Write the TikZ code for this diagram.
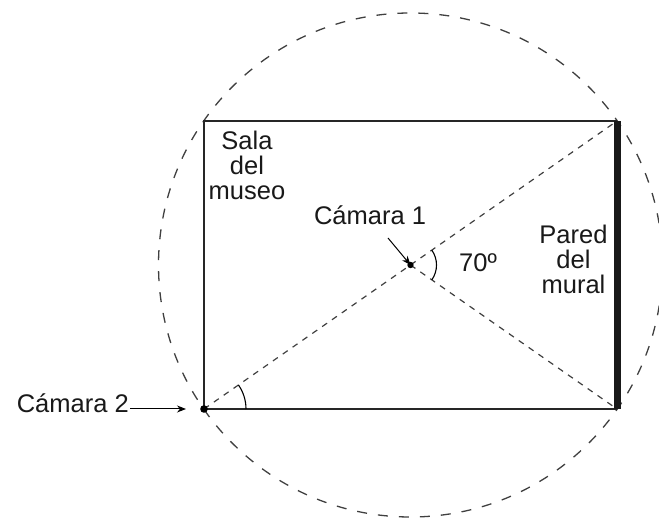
\documentclass[tikz,border=0pt]{standalone}
\usepackage{fontspec}
\setmainfont{Liberation Sans}
\usetikzlibrary{arrows.meta}
\begin{document}
\begin{tikzpicture}[x=1pt,y=1pt,
  lbl/.style={font=\fontsize{25.5}{25}\selectfont, inner sep=0pt, text=black!90},
  wall/.style={line width=1.1pt, black!85},
  dsh/.style={dash pattern=on 10pt off 11pt, line width=1.3pt, black!75},
  dshd/.style={dash pattern=on 6pt off 6pt, line width=1.2pt, black!75},
  arr/.style={-{Stealth[length=9pt,width=7pt]}, line width=1pt}]
\useasboundingbox (0,0) rectangle (659,519);
\coordinate (BL) at (204,110);
\coordinate (TL) at (204,398);
\coordinate (TR) at (617,398);
\coordinate (BR) at (617,110);
\coordinate (C1) at (410.5,254);
% circle
\draw[dsh] (C1) circle (252);
% room
\draw[wall] (BR) -- (BL) -- (TL) -- (TR);
\draw[line width=7pt, black!90] (BR) -- (TR);
% diagonals
\draw[dshd] (BL) -- (TR);
\draw[dshd] (C1) -- (BR);
% angles
\draw[line width=1.1pt] ([shift={(-35.1:26)}]C1) arc (-35.1:35.1:26);
\draw[line width=1.1pt] ([shift={(0:42)}]BL) arc (0:35.1:42);
% dots
\fill (C1) circle (3.2pt);
\fill (BL) circle (3.8pt);
% labels
\node[lbl, align=center] (sala) at (247,354) {Sala\\del\\museo};
\node[lbl, align=center] (pared) at (573.5,260) {Pared\\del\\mural};
\node[lbl, anchor=west] (ang) at (459,256) {70º};
\node[lbl] (cam1) at (370,303.5) {Cámara 1};
\node[lbl, anchor=base east] (cam2) at (129,106) {Cámara 2};
\coordinate (a1s) at (388,281);
\draw[arr] (a1s) -- (C1);
\coordinate (a2e) at (186,110);
\draw[arr] (cam2.base east) ++(1,4) coordinate (a2s) -- (a2e);
\end{tikzpicture}
\end{document}
